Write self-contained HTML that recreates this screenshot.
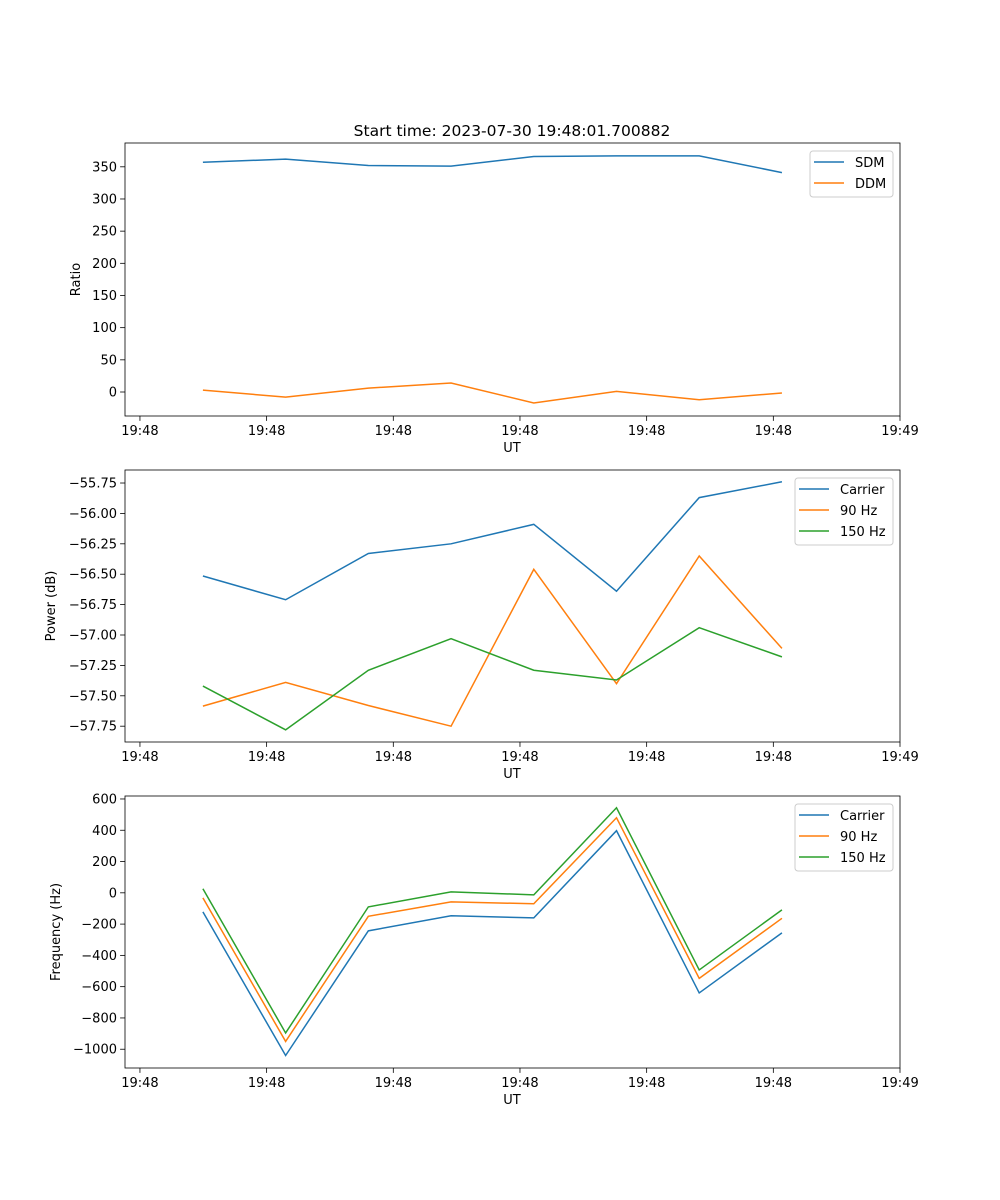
<!DOCTYPE html>
<html><head><meta charset="utf-8"><style>
body{margin:0;background:#fff}
svg{display:block;font-family:"DejaVu Sans","Liberation Sans",sans-serif}
</style></head><body>
<svg id="fig" width="1000" height="1200" viewBox="0 0 1000 1200" xmlns="http://www.w3.org/2000/svg">
<rect width="1000" height="1200" fill="#fff"/>
<text x="512" y="136" font-size="15.5" text-anchor="middle">Start time: 2023-07-30 19:48:01.700882</text>
</svg>
<script>
const times = [4.97, 11.50, 18.03, 24.56, 31.09, 37.62, 44.15, 50.68];
const xTickVals = [0, 10, 20, 30, 40, 50, 60];
const xTickLabels = ["19:48","19:48","19:48","19:48","19:48","19:48","19:49"];
const sdm = [357, 362, 352, 351, 366, 367, 367, 341];
const ddm = [3, -8, 6, 14, -17, 1, -12, -1.5];
const powCarrier = [-56.515, -56.71, -56.33, -56.25, -56.09, -56.64, -55.87, -55.74];
const pow90 = [-57.585, -57.39, -57.58, -57.75, -56.46, -57.40, -56.35, -57.11];
const pow150 = [-57.42, -57.78, -57.29, -57.03, -57.29, -57.37, -56.94, -57.18];
const freqCarrier = [-122, -1040, -243, -147, -160, 397, -640, -256];
const freq90 = [-32, -950, -150, -58, -70, 480, -547, -163];
const freq150 = [26, -896, -90, 6, -13, 544, -493, -109];
const ratioTicks = [0, 50, 100, 150, 200, 250, 300, 350];
const powTicks = [-57.75, -57.5, -57.25, -57.0, -56.75, -56.5, -56.25, -56.0, -55.75];
const freqTicks = [-1000, -800, -600, -400, -200, 0, 200, 400, 600];

const NS = "http://www.w3.org/2000/svg";
const svg = document.getElementById("fig");
const C = ["#1f77b4", "#ff7f0e", "#2ca02c"];
function mk(tag, attrs, parent) {
  const e = document.createElementNS(NS, tag);
  for (const k in attrs) e.setAttribute(k, attrs[k]);
  (parent || svg).appendChild(e);
  return e;
}
const X0 = 125, X1 = 900, XMIN = -1.18, XMAX = 60.0;
function xs(t) { return X0 + (t - XMIN) / (XMAX - XMIN) * (X1 - X0); }

function panel(name, top, bot, ymin, ymax, yticks, fmt, ylabel, series, names, legend) {
  const g = mk("g", {});
  
  
  const ys = v => bot - (v - ymin) / (ymax - ymin) * (bot - top);
  series.forEach((s, i) => {
    const pts = s.map((v, j) => xs(times[j]).toFixed(2) + "," + ys(v).toFixed(2)).join(" ");
    const pl = mk("polyline", {points: pts, fill: "none", stroke: C[i], "stroke-width": 1.5}, g);
    
    
  });
  const fr = mk("rect", {x: X0, y: top, width: X1 - X0, height: bot - top, fill: "none", stroke: "#000", "stroke-width": 0.8}, g);
  
  
  xTickVals.forEach((t, i) => {
    const x = xs(t);
    mk("line", {x1: x, x2: x, y1: bot, y2: bot + 4.9, stroke: "#000", "stroke-width": 0.8}, g);
    const tx = mk("text", {x: x, y: bot + 19, "font-size": 13, "text-anchor": "middle"}, g);
    tx.textContent = xTickLabels[i];
    
    
  });
  yticks.forEach(v => {
    const y = ys(v);
    mk("line", {x1: X0 - 4.9, x2: X0, y1: y, y2: y, stroke: "#000", "stroke-width": 0.8}, g);
    const tx = mk("text", {x: X0 - 8, y: y + 4.5, "font-size": 13, "text-anchor": "end"}, g);
    tx.textContent = fmt(v).replace("-", "\u2212");
    
    
  });
  const xl = mk("text", {x: 512, y: bot + 36, "font-size": 13, "text-anchor": "middle"}, g);
  xl.textContent = "UT";
  
  
  const my = (top + bot) / 2;
  const yl = mk("text", {x: 0, y: 0, "font-size": 13, "text-anchor": "middle", transform: `translate(${legend.yx},${my}) rotate(-90)`}, g);
  yl.textContent = ylabel;
  
  
  const lg = mk("g", {}, g);
  
  
  const h = 4 + names.length * 21;
  mk("rect", {x: legend.x, y: top + 8, width: 893 - legend.x, height: h, rx: 3, fill: "#fff", "fill-opacity": 0.8, stroke: "#ccc", "stroke-width": 1}, lg);
  names.forEach((n, i) => {
    const y = top + 19 + i * 21;
    const le = mk("g", {}, lg);
    
    
    mk("line", {x1: legend.x + 4, x2: legend.x + 34, y1: y, y2: y, stroke: C[i], "stroke-width": 1.5}, le);
    const t = mk("text", {x: legend.x + 45, y: y + 5, "font-size": 13}, le);
    t.textContent = n;
  });
}
panel("ratio-panel", 143, 416, -37.3, 387, ratioTicks, v => String(v), "Ratio", [sdm, ddm], ["SDM", "DDM"], {x: 810, yx: 80});
panel("power-panel", 470, 742, -57.88, -55.643, powTicks, v => v.toFixed(2), "Power (dB)", [powCarrier, pow90, pow150], ["Carrier", "90 Hz", "150 Hz"], {x: 795, yx: 55});
panel("frequency-panel", 796, 1068, -1120, 619, freqTicks, v => String(v), "Frequency (Hz)", [freqCarrier, freq90, freq150], ["Carrier", "90 Hz", "150 Hz"], {x: 795, yx: 60});
</script>
</body></html>
